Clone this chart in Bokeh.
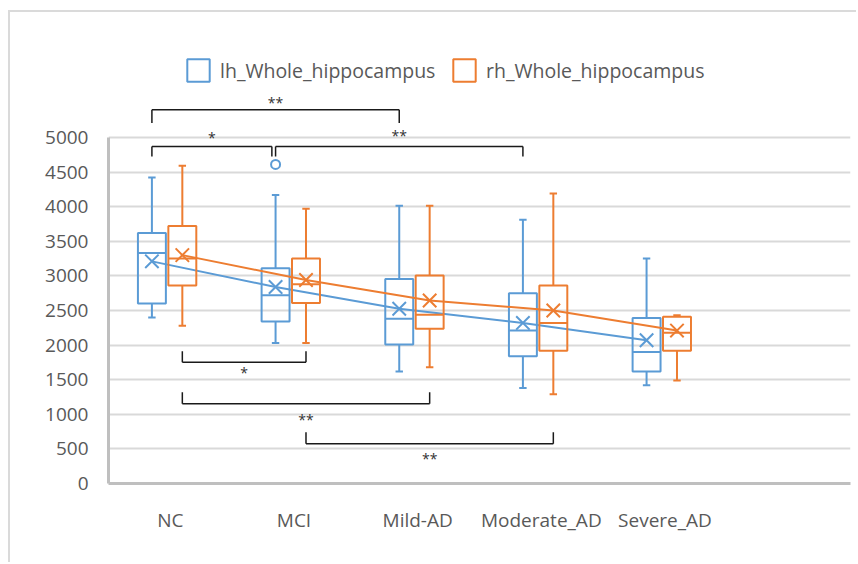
import numpy as np
from bokeh.plotting import figure
from bokeh.models import Range1d, FixedTicker, Legend, LegendItem, ColumnDataSource
from bokeh.embed import file_html
from bokeh.resources import INLINE
from bokeh.core.properties import value

# ---------------- data ----------------
categories = ["NC", "MCI", "Mild-AD", "Moderate_AD", "Severe_AD"]
series_names = ["lh_Whole_hippocampus", "rh_Whole_hippocampus"]

lh_min = [2400, 2030, 1620, 1380, 1420]
lh_q1 = [2600, 2340, 2010, 1840, 1620]
lh_med = [3330, 2720, 2380, 2210, 1900]
lh_q3 = [3620, 3110, 2955, 2750, 2390]
lh_max = [4420, 4170, 4015, 3810, 3250]
lh_mean = [3210, 2840, 2525, 2320, 2070]
lh_outlier_cat = ["MCI"]
lh_outlier_val = [4610]

rh_min = [2280, 2030, 1680, 1290, 1490]
rh_q1 = [2860, 2610, 2235, 1920, 1920]
rh_med = [3250, 2880, 2440, 2320, 2180]
rh_q3 = [3720, 3250, 3005, 2860, 2410]
rh_max = [4590, 3970, 4015, 4190, 2430]
rh_mean = [3300, 2940, 2645, 2500, 2210]
rh_outlier_cat = []
rh_outlier_val = []

y_ticks = [0, 500, 1000, 1500, 2000, 2500, 3000, 3500, 4000, 4500, 5000]

# significance comparisons (group a, group b, label)
sig_above = [("NC", "Mild-AD", "**"), ("NC", "MCI", "*"), ("MCI", "Moderate_AD", "**")]
sig_below = [("NC", "MCI", "*"), ("NC", "Mild-AD", "**"), ("MCI", "Moderate_AD", "**")]

# ---------------- layout / style ----------------
BLUE = "#5B9BD5"
ORANGE = "#ED7D31"
TXT = "#595959"
FONT = "Open Sans"
OFF_LH, OFF_RH = -0.149, 0.097
BOX_W = 0.226
CAP_W = 0.06

above_bar = [5400, 4870, 4870]
above_leg = [5210, 4725, 4725]
above_txt = [5500, 5005, 5035]
above_end_nudge = [0.0, -0.03, 0.0]
below_bar = [1753, 1152, 574]
below_leg = [1912, 1319, 741]
below_txt = [1600, 930, 360]

xc = np.arange(len(categories)) + 0.5
cat_idx = {c: i for i, c in enumerate(categories)}

# canvas origin is at page (10, 12) because of the chart-area border + margin
p = figure(width=848, height=552, x_range=Range1d(0, 6), y_range=Range1d(0, 6806),
           output_backend="svg", toolbar_location=None,
           min_border_left=98, min_border_right=8, min_border_top=0, min_border_bottom=81)
p.styles = {"border-left": "2px solid #dadada", "border-top": "2px solid #dadada",
            "border-right": "none", "border-bottom": "none",
            "outline": "none", "box-shadow": "none",
            "margin-left": "8px", "margin-top": "10px"}
p.outline_line_color = None
p.background_fill_color = "white"
p.border_fill_color = "white"

yt = FixedTicker(ticks=y_ticks)
p.yaxis.ticker = yt
p.ygrid.ticker = yt
p.yaxis.bounds = (0, 5000)
p.xgrid.visible = False
p.ygrid.grid_line_color = "#d9d9d9"
p.ygrid.grid_line_width = 2

p.xaxis.ticker = FixedTicker(ticks=[float(v) for v in xc])
p.xaxis.major_label_overrides = {float(v): c for v, c in zip(xc, categories)}

for ax in (p.xaxis[0], p.yaxis[0]):
    ax.axis_line_color = "#bfbfbf"
    ax.axis_line_width = 3
    ax.major_tick_line_color = None
    ax.minor_tick_line_color = None
    ax.major_tick_out = 0
    ax.major_tick_in = 0
    ax.major_label_text_font = FONT
    ax.major_label_text_font_size = "19px"
    ax.major_label_text_color = TXT
p.yaxis.major_label_standoff = 20
p.xaxis.major_label_standoff = 23


def draw_series(off, color, mn, q1, med, q3, mx, mean, out_cat, out_val):
    x = xc + off
    src = ColumnDataSource(dict(
        x=x, left=x - BOX_W / 2, right=x + BOX_W / 2,
        cl=x - CAP_W / 2, cr=x + CAP_W / 2,
        mn=mn, q1=q1, med=med, q3=q3, mx=mx, mean=mean))
    kw = dict(line_color=color, line_width=2, source=src)
    p.segment(x0="x", y0="q3", x1="x", y1="mx", **kw)
    p.segment(x0="x", y0="q1", x1="x", y1="mn", **kw)
    p.segment(x0="cl", y0="mx", x1="cr", y1="mx", **kw)
    p.segment(x0="cl", y0="mn", x1="cr", y1="mn", **kw)
    box = p.quad(left="left", right="right", bottom="q1", top="q3",
                 fill_color="white", fill_alpha=0, **kw)
    p.segment(x0="left", y0="med", x1="right", y1="med", **kw)
    p.line(x="x", y="mean", **kw)
    p.scatter(x="x", y="mean", marker="x", size=19, **kw)
    if out_cat:
        ox = [xc[cat_idx[c]] + off for c in out_cat]
        p.scatter(x=ox, y=out_val, marker="circle", size=9, fill_color="white",
                  line_color=color, line_width=2)
    return box


box_lh = draw_series(OFF_LH, BLUE, lh_min, lh_q1, lh_med, lh_q3, lh_max, lh_mean,
                     lh_outlier_cat, lh_outlier_val)
box_rh = draw_series(OFF_RH, ORANGE, rh_min, rh_q1, rh_med, rh_q3, rh_max, rh_mean,
                     rh_outlier_cat, rh_outlier_val)


def brackets(comps, off, bar, leg, txt, nudge=None):
    x0, y0, x1, y1, tx, ty, tl = [], [], [], [], [], [], []
    for k, (a, b, lab) in enumerate(comps):
        xa = xc[cat_idx[a]] + off
        xb = xc[cat_idx[b]] + off + (nudge[k] if nudge else 0.0)
        x0 += [xa, xa, xb]
        y0 += [bar[k], leg[k], leg[k]]
        x1 += [xb, xa, xb]
        y1 += [bar[k], bar[k], bar[k]]
        tx.append((xa + xb) / 2)
        ty.append(txt[k])
        tl.append(lab)
    p.segment(x0=x0, y0=y0, x1=x1, y1=y1, line_color="#1a1a1a", line_width=1.5)
    p.text(x=tx, y=ty, text=tl, text_font=value(FONT), text_font_size="14px",
           text_align="center", text_baseline="middle", text_color="#333333")


brackets(sig_above, OFF_LH, above_bar, above_leg, above_txt, above_end_nudge)
brackets(sig_below, OFF_RH, below_bar, below_leg, below_txt)

leg_kw = dict(orientation="horizontal", padding=0, margin=0, border_line_color=None,
              background_fill_alpha=0, glyph_width=28, glyph_height=28, label_height=28,
              label_standoff=8, label_text_font=FONT, label_text_font_size="19.5px",
              label_text_color=TXT)
p.add_layout(Legend(items=[LegendItem(label=series_names[0], renderers=[box_lh])],
                    location=(76, 399), **leg_kw))
p.add_layout(Legend(items=[LegendItem(label=series_names[1], renderers=[box_rh])],
                    location=(342, 399), **leg_kw))

open("out.html", "w").write(file_html(p, INLINE))
